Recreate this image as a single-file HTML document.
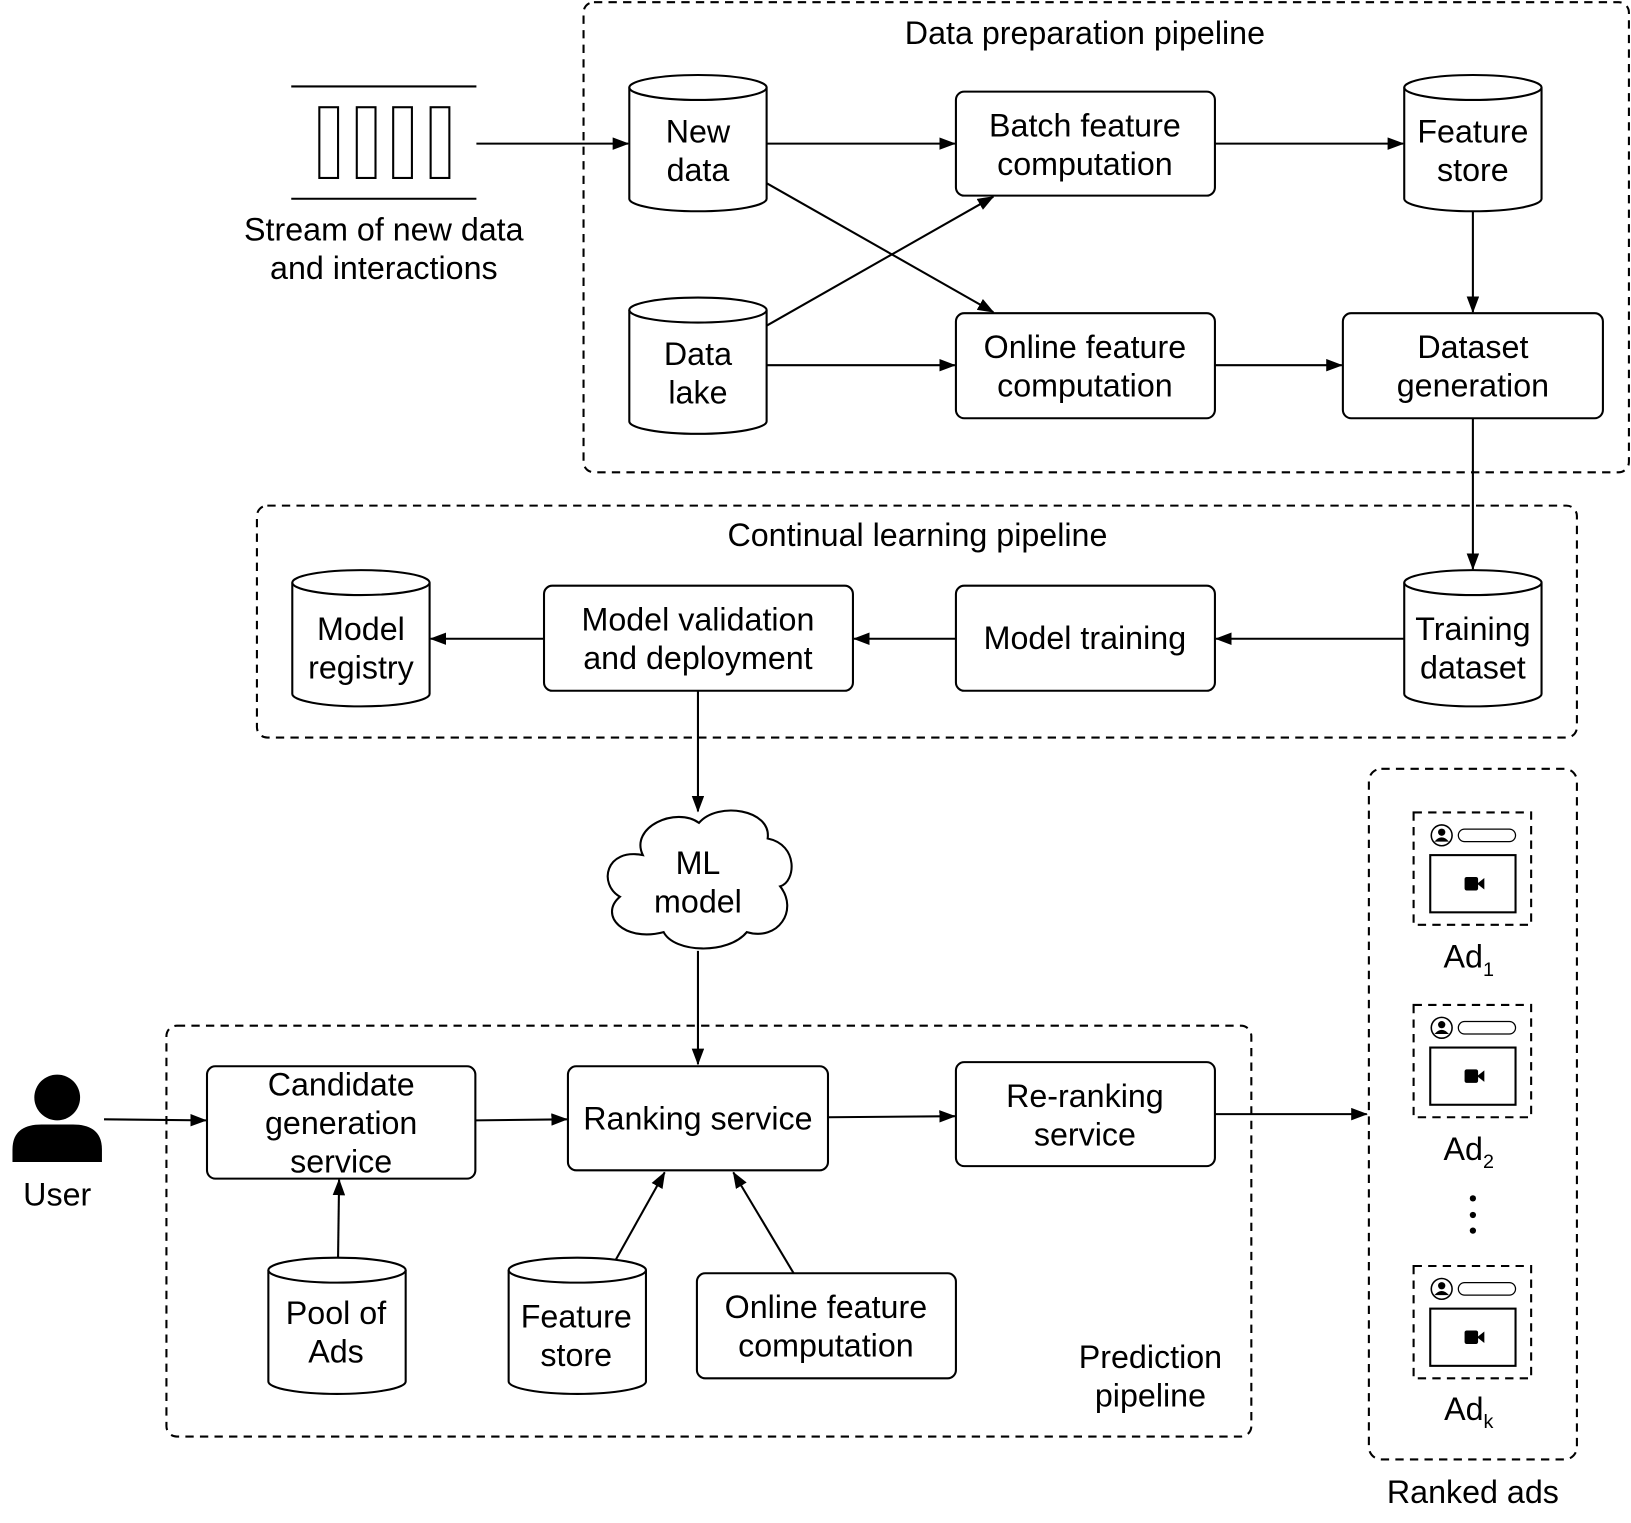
<!DOCTYPE html>
<html><head><meta charset="utf-8"><style>
html,body{margin:0;padding:0;background:#fff}
svg{display:block}
text{font-family:"Liberation Sans",Arial,sans-serif;font-size:31px;fill:#000;text-anchor:middle}
.s{fill:#fff;stroke:#000;stroke-width:2}
.d{fill:none;stroke:#000;stroke-width:2;stroke-dasharray:8 6}
.l{stroke:#000;stroke-width:2;fill:none}
</style></head><body>
<svg width="1631" height="1523" viewBox="0 0 1568 1464" xmlns="http://www.w3.org/2000/svg">
<defs>
<marker id="a" markerWidth="16" markerHeight="12" refX="15" refY="6" orient="auto" markerUnits="userSpaceOnUse" viewBox="0 0 16 12">
<path d="M0,0 L16,6 L0,12 z" fill="#000"/></marker>
<g id="cyl">
<path class="s" d="M0,12 A66,12 0 0 1 132,12 L132,119 A66,12 0 0 1 0,119 Z"/>
<path class="l" d="M0,12 A66,12 0 0 0 132,12"/>
</g>
<g id="ad">
<rect class="d" x="0" y="0" width="113" height="108" stroke-dasharray="6 5"/>
<circle cx="27" cy="22" r="10" fill="#fff" stroke="#000" stroke-width="1.5"/>
<circle cx="27" cy="19" r="3.5" fill="#000"/>
<path d="M20,28 Q27,20 34,28 Z" fill="#000"/>
<rect x="43" y="16" width="55" height="12" rx="6" fill="#fff" stroke="#000" stroke-width="1.2"/>
<rect x="16" y="41" width="82" height="55" fill="#fff" stroke="#000" stroke-width="2"/>
<rect x="49" y="62" width="13" height="13" rx="2" fill="#000"/>
<path d="M61,68.5 L68,63 L68,74 Z" fill="#000"/>
</g>
</defs>

<rect class="d" x="561" y="2" width="1005" height="452" rx="10"/>
<text x="1043" y="42">Data preparation pipeline</text>
<line class="l" x1="280" y1="83" x2="458" y2="83"/>
<line class="l" x1="280" y1="191" x2="458" y2="191"/>
<rect class="s" x="307" y="103" width="18" height="68"/>
<rect class="s" x="343" y="103" width="18" height="68"/>
<rect class="s" x="378" y="103" width="18" height="68"/>
<rect class="s" x="414" y="103" width="18" height="68"/>
<text x="369" y="231">Stream of new data</text>
<text x="369" y="268">and interactions</text>
<line class="l" x1="458" y1="138" x2="604" y2="138" marker-end="url(#a)"/>

<use href="#cyl" x="605" y="72"/>
<text x="671" y="137">New</text><text x="671" y="174">data</text>
<rect class="s" x="919" y="88" width="249" height="100" rx="8"/>
<text x="1043" y="131">Batch feature</text><text x="1043" y="168">computation</text>
<line class="l" x1="737" y1="138" x2="918" y2="138" marker-end="url(#a)"/>
<line class="l" x1="1168" y1="138" x2="1349" y2="138" marker-end="url(#a)"/>
<use href="#cyl" x="1350" y="72"/>
<text x="1416" y="137">Feature</text><text x="1416" y="174">store</text>
<line class="l" x1="1416" y1="203" x2="1416" y2="300" marker-end="url(#a)"/>

<use href="#cyl" x="605" y="286"/>
<text x="671" y="351">Data</text><text x="671" y="388">lake</text>
<rect class="s" x="919" y="301" width="249" height="101" rx="8"/>
<text x="1043" y="344">Online feature</text><text x="1043" y="381">computation</text>
<rect class="s" x="1291" y="301" width="250" height="101" rx="8"/>
<text x="1416" y="344">Dataset</text><text x="1416" y="381">generation</text>
<line class="l" x1="737" y1="351" x2="918" y2="351" marker-end="url(#a)"/>
<line class="l" x1="1168" y1="351" x2="1290" y2="351" marker-end="url(#a)"/>
<line class="l" x1="737" y1="176" x2="955" y2="300" marker-end="url(#a)"/>
<line class="l" x1="737" y1="313" x2="955" y2="189" marker-end="url(#a)"/>
<line class="l" x1="1416" y1="402" x2="1416" y2="547" marker-end="url(#a)"/>

<rect class="d" x="247" y="486" width="1269" height="223" rx="10"/>
<text x="882" y="525">Continual learning pipeline</text>
<use href="#cyl" x="281" y="548"/>
<text x="347" y="615">Model</text><text x="347" y="652">registry</text>
<rect class="s" x="523" y="563" width="297" height="101" rx="8"/>
<text x="671" y="606">Model validation</text><text x="671" y="643">and deployment</text>
<rect class="s" x="919" y="563" width="249" height="101" rx="8"/>
<text x="1043" y="624">Model training</text>
<use href="#cyl" x="1350" y="548"/>
<text x="1416" y="615">Training</text><text x="1416" y="652">dataset</text>
<line class="l" x1="1350" y1="614" x2="1169" y2="614" marker-end="url(#a)"/>
<line class="l" x1="919" y1="614" x2="821" y2="614" marker-end="url(#a)"/>
<line class="l" x1="523" y1="614" x2="414" y2="614" marker-end="url(#a)"/>
<line class="l" x1="671" y1="664" x2="671" y2="780" marker-end="url(#a)"/>

<path class="s" d="M618,822 C605,795 650,775 672,791 C690,770 742,778 738,806 C768,812 765,848 750,852 C768,875 748,905 718,896 C700,918 648,916 638,896 C600,906 575,880 596,862 C575,850 582,815 618,822 Z"/>
<text x="671" y="840">ML</text><text x="671" y="877">model</text>
<line class="l" x1="671" y1="914" x2="671" y2="1023" marker-end="url(#a)"/>

<rect class="d" x="160" y="986" width="1043" height="395" rx="10"/>
<circle cx="55" cy="1055" r="22" fill="#000"/>
<path d="M12,1117 L12,1105 Q12,1081 40,1081 L70,1081 Q98,1081 98,1105 L98,1117 Z" fill="#000"/>
<text x="55" y="1159">User</text>
<line class="l" x1="100" y1="1076" x2="198" y2="1077" marker-end="url(#a)"/>
<rect class="s" x="199" y="1025" width="258" height="108" rx="8"/>
<text x="328" y="1053">Candidate</text><text x="328" y="1090">generation</text><text x="328" y="1127">service</text>
<line class="l" x1="457" y1="1077" x2="545" y2="1076" marker-end="url(#a)"/>
<rect class="s" x="546" y="1025" width="250" height="100" rx="8"/>
<text x="671" y="1086">Ranking service</text>
<line class="l" x1="796" y1="1074" x2="918" y2="1073" marker-end="url(#a)"/>
<rect class="s" x="919" y="1021" width="249" height="100" rx="8"/>
<text x="1043" y="1064">Re-ranking</text><text x="1043" y="1101">service</text>
<line class="l" x1="1168" y1="1071" x2="1314" y2="1071" marker-end="url(#a)"/>
<use href="#cyl" x="258" y="1209"/>
<text x="323" y="1273">Pool of</text><text x="323" y="1310">Ads</text>
<line class="l" x1="325" y1="1209" x2="326" y2="1134" marker-end="url(#a)"/>
<use href="#cyl" x="489" y="1209"/>
<text x="554" y="1276">Feature</text><text x="554" y="1313">store</text>
<line class="l" x1="592" y1="1211" x2="639" y2="1127" marker-end="url(#a)"/>
<rect class="s" x="670" y="1224" width="249" height="101" rx="8"/>
<text x="794" y="1267">Online feature</text><text x="794" y="1304">computation</text>
<line class="l" x1="763" y1="1224" x2="705" y2="1127" marker-end="url(#a)"/>
<text x="1106" y="1315">Prediction</text><text x="1106" y="1352">pipeline</text>

<rect class="d" x="1316" y="739" width="200" height="664" rx="12"/>
<use href="#ad" x="1359" y="781"/>
<use href="#ad" x="1359" y="966"/>
<use href="#ad" x="1359" y="1217"/>
<text x="1412" y="930">Ad<tspan font-size="19" dy="8">1</tspan></text>
<text x="1412" y="1115">Ad<tspan font-size="19" dy="8">2</tspan></text>
<text x="1412" y="1365">Ad<tspan font-size="19" dy="8">k</tspan></text>
<circle cx="1416" cy="1152" r="3" fill="#000"/>
<circle cx="1416" cy="1168" r="3" fill="#000"/>
<circle cx="1416" cy="1183" r="3" fill="#000"/>
<text x="1416" y="1445">Ranked ads</text>
</svg>
</body></html>
